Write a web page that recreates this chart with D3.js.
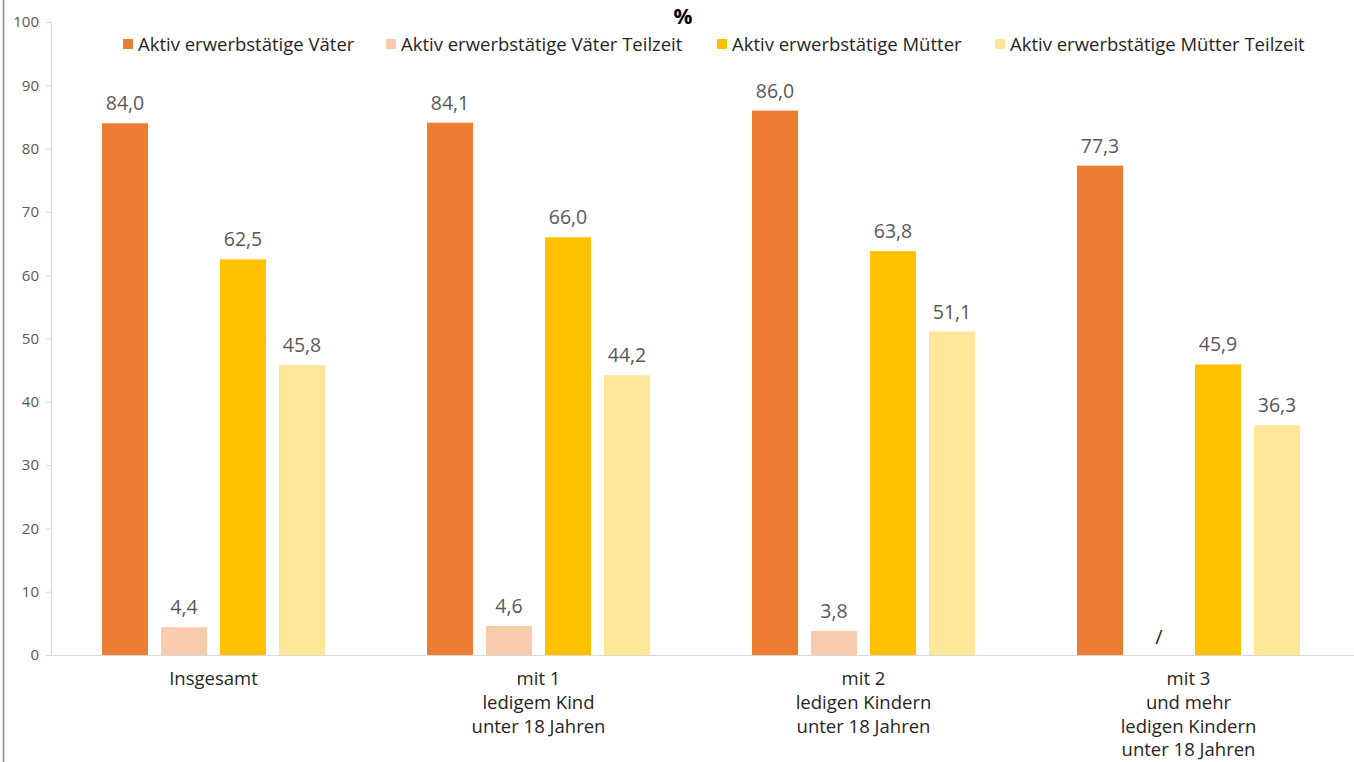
<!DOCTYPE html>
<html><head><meta charset="utf-8">
<script src="https://cdn.jsdelivr.net/npm/d3@7"></script>
<style>body{margin:0;background:#fff;} svg{display:block;}</style>
</head><body>
<script>
const categories = ["Insgesamt", "mit 1\nledigem Kind\nunter 18 Jahren", "mit 2\nledigen Kindern\nunter 18 Jahren", "mit 3\nund mehr\nledigen Kindern\nunter 18 Jahren"];
const seriesNames = ["Aktiv erwerbstätige Väter", "Aktiv erwerbstätige Väter Teilzeit", "Aktiv erwerbstätige Mütter", "Aktiv erwerbstätige Mütter Teilzeit"];
const vaeter = [84.0, 84.1, 86.0, 77.3];
const vaeterTeilzeit = [4.4, 4.6, 3.8, null];
const muetter = [62.5, 66.0, 63.8, 45.9];
const muetterTeilzeit = [45.8, 44.2, 51.1, 36.3];
const yTicks = [0, 10, 20, 30, 40, 50, 60, 70, 80, 90, 100];
const colors = ["#ED7D31", "#F8CBAD", "#FFC000", "#FFE699"];

const W = 1354, H = 762;
const font = "'Open Sans', 'Noto Sans', sans-serif";
const svg = d3.select("body").append("svg").attr("width", W).attr("height", H)
  .style("font-family", font);

const series = [vaeter, vaeterTeilzeit, muetter, muetterTeilzeit];

// left border line
svg.append("line").attr("x1", 3.5).attr("x2", 3.5).attr("y1", 0).attr("y2", H)
  .attr("stroke", "#8E7CC3").attr("stroke-width", 1.5);

const y = d3.scaleLinear().domain([0, 100]).range([655, 22]);
const x = d3.scaleBand().domain(categories).range([51, 1351]);
const inner = d3.scaleBand().domain(d3.range(4)).range([0, 4 * 59 - 13]).paddingInner(13 / 59);
const innerOffset = (x.bandwidth() - (4 * 59 - 13)) / 2;

// y axis
const yAxis = d3.axisLeft(y).tickValues(yTicks).tickSize(5).tickPadding(7).tickFormat(d3.format("d"));
const ga = svg.append("g").attr("transform", "translate(51,0)").call(yAxis);
ga.select(".domain").attr("stroke", "#D9D9D9");
ga.selectAll(".tick line").attr("stroke", "#D9D9D9");
ga.selectAll(".tick text").attr("fill", "#595959").style("font-size", "15px").style("font-family", font);

// baseline
svg.append("line").attr("x1", 51).attr("x2", W).attr("y1", y(0) + 0.5).attr("y2", y(0) + 0.5)
  .attr("stroke", "#D9D9D9").attr("stroke-width", 1.2);

// bars
categories.forEach((c, ci) => {
  series.forEach((s, si) => {
    const v = s[ci];
    const bx = x(c) + innerOffset + inner(si);
    const cx = bx + inner.bandwidth() / 2;
    if (v == null) {
      svg.append("text").attr("x", cx).attr("y", y(0) - 11).attr("text-anchor", "middle")
        .attr("fill", "#262626").style("font-size", "20px").text("/");
      return;
    }
    svg.append("rect").attr("x", bx).attr("y", y(v)).attr("width", inner.bandwidth())
      .attr("height", y(0) - y(v)).attr("fill", colors[si]);
    svg.append("text").attr("x", cx).attr("y", y(v) - 13).attr("text-anchor", "middle")
      .attr("fill", "#595959").style("font-size", "19.5px")
      .text(d3.format(".1f")(v).replace(".", ","));
  });
  // category labels
  const lines = c.split("\n");
  const t = svg.append("text").attr("text-anchor", "middle").attr("fill", "#262626")
    .style("font-size", "18.5px");
  lines.forEach((l, li) => {
    t.append("tspan").attr("x", x(c) + x.bandwidth() / 2).attr("y", 685 + li * 23.8).text(l);
  });
});

// title "%"
svg.append("text").attr("x", 683).attr("y", 24).attr("text-anchor", "middle")
  .attr("fill", "#000").style("font-size", "21px").style("font-weight", "bold").text("%");

// legend
const legX = [123, 386, 717, 995];
seriesNames.forEach((n, i) => {
  svg.append("rect").attr("x", legX[i]).attr("y", 39).attr("width", 10).attr("height", 10).attr("fill", colors[i]);
  svg.append("text").attr("x", legX[i] + 15).attr("y", 51).attr("fill", "#262626")
    .style("font-size", "18.5px").text(n);
});
</script>
</body></html>
